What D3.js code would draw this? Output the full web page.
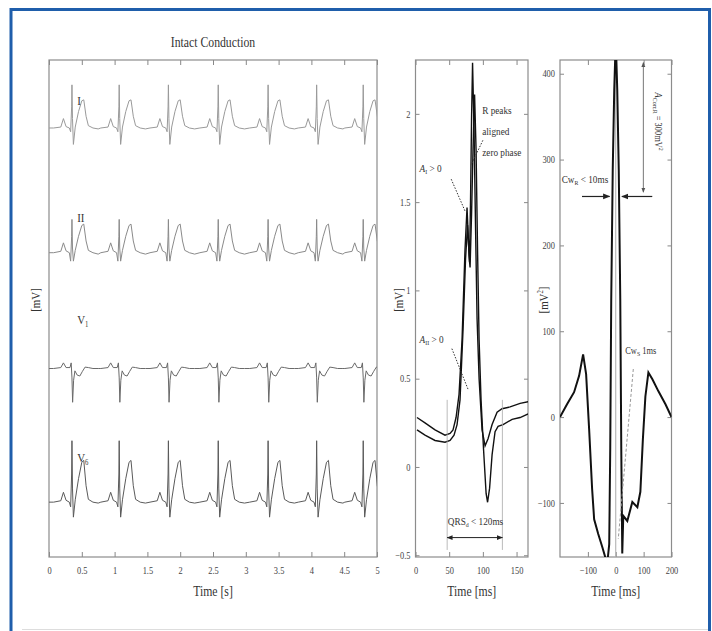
<!DOCTYPE html>
<html>
<head>
<meta charset="utf-8">
<script src="https://cdn.jsdelivr.net/npm/d3@7"></script>
<style>
  body { margin: 0; background: #fff; }
  text { font-family: "Liberation Serif", "Times New Roman", serif; fill: #333; }
  .tick text { fill: #444; font-size: 10px; }
  .tick line { stroke: #888; }
</style>
</head>
<body>
<svg id="fig" width="712" height="631"></svg>
<script>
// ---- data ----
// R-peak times in the 5 s strip (s)
const beatTimes = [0.35, 1.07, 1.82, 2.58, 3.34, 4.08, 4.79];
const leadNames = ["I", "II", "V", "V"];
const leadSubs = ["", "", "1", "6"];
const leadOffsets = [9.15, 6.49, 4.02, 1.17];          // mV, vertical spacing of the leads
const leadColors = ["#9a9a9a", "#8a8a8a", "#6a6a6a", "#5a5a5a"];
// one beat per lead: [time from R (s), mV]
const beatI = [[-0.28, 0], [-0.17, 0.02], [-0.13, 0.2], [-0.09, 0.03], [-0.04, 0], [-0.02, -0.08],
  [-0.005, 0.45], [0, 0.92], [0.008, 0.2], [0.022, -0.35], [0.05, 0.02], [0.1, 0.35], [0.15, 0.58],
  [0.18, 0.6], [0.215, 0.25], [0.25, 0.05], [0.32, 0], [0.4, -0.02]];
const beatII = [[-0.28, 0], [-0.17, 0.03], [-0.13, 0.21], [-0.09, 0.04], [-0.04, 0], [-0.02, -0.18],
  [-0.005, 0.35], [0, 0.71], [0.008, 0.1], [0.022, -0.18], [0.05, 0.05], [0.1, 0.35], [0.15, 0.58],
  [0.18, 0.61], [0.215, 0.25], [0.25, 0.05], [0.32, 0], [0.4, -0.03]];
const beatV1 = [[-0.28, 0], [-0.17, 0.02], [-0.13, 0.12], [-0.09, 0.02], [-0.03, 0.02], [-0.012, 0.12],
  [0, -0.2], [0.01, -0.72], [0.025, -0.25], [0.045, -0.05], [0.08, -0.14], [0.12, -0.16], [0.16, -0.06],
  [0.2, 0.03], [0.25, 0.02], [0.32, 0], [0.4, 0]];
const beatV6 = [[-0.28, 0], [-0.17, 0.03], [-0.13, 0.21], [-0.09, 0.04], [-0.04, 0], [-0.02, -0.1],
  [-0.005, 0.6], [0, 1.31], [0.008, 0.3], [0.022, -0.32], [0.05, 0.05], [0.1, 0.5], [0.15, 0.85],
  [0.18, 0.89], [0.215, 0.35], [0.25, 0.06], [0.32, 0], [0.4, -0.02]];
const beatTemplates = [beatI, beatII, beatV1, beatV6];

// averaged QRS complexes: [time (ms), mV]
const qrsA = [[2.2, 0.28], [14.1, 0.25], [29, 0.21], [43.8, 0.18], [51.3, 0.19], [55.7, 0.21], [60.2, 0.28],
  [64.6, 0.41], [69.1, 0.72], [73.5, 1.23], [76.5, 1.47], [78.8, 1.26], [80.2, 1.16], [81.7, 1.51],
  [83.2, 1.97], [84.7, 2.29], [86.9, 1.91], [89.2, 1.34], [91.4, 0.84], [94.4, 0.5], [98.8, 0.21],
  [103.3, 0.12], [107.7, 0.16], [113.7, 0.24], [121.1, 0.31], [128.5, 0.33], [140.4, 0.34],
  [155.3, 0.36], [167.2, 0.37]];
const qrsB = [[2.2, 0.21], [14.1, 0.18], [29, 0.15], [43.8, 0.14], [51.3, 0.15], [57.2, 0.18], [61.7, 0.24],
  [66.1, 0.38], [70.6, 0.78], [74.3, 1.18], [77.3, 1.37], [79.5, 1.2], [81, 1.13], [83.2, 1.43],
  [85.4, 1.8], [87.7, 2.11], [89.9, 1.8], [92.1, 1.23], [94.4, 0.72], [97.3, 0.38], [101, 0.1],
  [104.8, -0.15], [107, -0.2], [110, -0.12], [113.7, 0.07], [118.1, 0.2], [122.6, 0.23], [130, 0.24],
  [143.4, 0.27], [155.3, 0.28], [167.2, 0.3]];

// cross-correlation: [lag (ms), mV^2]
const corr = [[-200, 0], [-174.8, 15], [-149.5, 29], [-131.5, 48], [-117.1, 73], [-106.3, 50], [-95.5, -14],
  [-84.7, -84], [-77.5, -119], [-63.1, -136], [-48.6, -151], [-37.8, -163], [-30.6, -171], [-23.4, -148],
  [-19.8, -37], [-16.2, 137], [-10.8, 288], [-5.4, 381], [0, 440], [5.4, 381], [10.8, 288], [16.2, 137],
  [19.8, -37], [23.4, -159], [27, -115], [41.4, -121], [59.5, -99], [77.5, -105], [88.3, -87],
  [97.3, -26], [106.3, 24], [117.1, 52], [131.5, 44], [153.2, 30], [178.4, 15], [200, 0]];

const stripTicks = [0, 0.5, 1, 1.5, 2, 2.5, 3, 3.5, 4, 4.5, 5];
const qrsTicks = [0, 50, 100, 150];
const qrsValueTicks = [-0.5, 0, 0.5, 1, 1.5, 2];
const corrTicks = [-100, 0, 100, 200];
const corrValueTicks = [-100, 0, 100, 200, 300, 400];

// ---- layout ----
const svg = d3.select("#fig");
const plotTop = 60, plotBottom = 557;
const fmt = d3.format("~g");

svg.append("path")
  .attr("d", "M11,631V9.5H709.5V631")
  .attr("fill", "none").attr("stroke", "#1f5eab").attr("stroke-width", 3);
svg.append("line").attr("x1", 22).attr("x2", 708).attr("y1", 629.5).attr("y2", 629.5)
  .attr("stroke", "#ddd");

const defs = svg.append("defs");
defs.append("marker").attr("id", "arr").attr("viewBox", "0 0 10 10").attr("refX", 9).attr("refY", 5)
  .attr("markerWidth", 6).attr("markerHeight", 6).attr("orient", "auto-start-reverse")
  .append("path").attr("d", "M0,1L10,5L0,9z").attr("fill", "#222");
defs.append("marker").attr("id", "arrg").attr("viewBox", "0 0 10 10").attr("refX", 9).attr("refY", 5)
  .attr("markerWidth", 5).attr("markerHeight", 5).attr("orient", "auto-start-reverse")
  .append("path").attr("d", "M0,1L10,5L0,9z").attr("fill", "#555");

// condensed serif text helper
function label(x, y, size, rot) {
  const g = svg.append("g").attr("transform", `translate(${x},${y}) rotate(${rot || 0}) scale(0.84,1)`);
  return g.append("text").attr("font-size", size);
}

function panel(id, xs, ys, xt, yt, xlab) {
  const [x0, x1] = xs.range();
  defs.append("clipPath").attr("id", id).append("rect")
    .attr("x", x0).attr("y", plotTop).attr("width", x1 - x0).attr("height", plotBottom - plotTop);
  const bx = d3.axisBottom(xs).tickValues(xt).tickFormat(fmt).tickSizeInner(-5).tickSizeOuter(0).tickPadding(10);
  svg.append("g").attr("transform", `translate(0,${plotBottom})`).call(bx)
    .call(g => g.select(".domain").remove())
    .call(g => g.selectAll(".tick text").attr("transform", "scale(0.84,1)"));
  svg.append("g").attr("transform", `translate(0,${plotTop})`)
    .call(d3.axisTop(xs).tickValues(xt).tickFormat("").tickSizeInner(-5).tickSizeOuter(0))
    .call(g => g.select(".domain").remove());
  if (yt) {
    svg.append("g").attr("transform", `translate(${x0},0)`)
      .call(d3.axisLeft(ys).tickValues(yt).tickFormat(fmt).tickSizeInner(-4).tickSizeOuter(0).tickPadding(6))
      .call(g => g.select(".domain").remove())
      .call(g => g.selectAll(".tick text").attr("font-size", 9).attr("transform", "scale(0.84,1)"));
    svg.append("g").attr("transform", `translate(${x1},0)`)
      .call(d3.axisRight(ys).tickValues(yt).tickFormat("").tickSizeInner(-4).tickSizeOuter(0))
      .call(g => g.select(".domain").remove());
  }
  svg.append("rect").attr("x", x0).attr("y", plotTop).attr("width", x1 - x0).attr("height", plotBottom - plotTop)
    .attr("fill", "none").attr("stroke", "#8c8c8c").attr("stroke-width", 1.2);
  label((x0 + x1) / 2, 596, 14).attr("text-anchor", "middle").text(xlab);
  return svg.append("g").attr("clip-path", `url(#${id})`);
}

// ---- panel 1: 5 s strip ----
const x1s = d3.scaleLinear().domain([0, 5]).range([49, 377]);
const y1s = d3.scaleLinear().domain([0, 10.6]).range([plotBottom, plotTop]);
label(213, 47, 14).attr("text-anchor", "middle").text("Intact Conduction");
const g1 = panel("c1", x1s, y1s, stripTicks, null, "Time [s]");
label(40, 300, 13, -90).attr("text-anchor", "middle").text("[mV]");
const line1 = d3.line().x(d => x1s(d[0])).y(d => y1s(d[1]));
beatTemplates.forEach((tpl, i) => {
  const pts = [[0, leadOffsets[i]]];
  beatTimes.forEach(bt => tpl.forEach(([dt, v]) => pts.push([bt + dt, leadOffsets[i] + v])));
  g1.append("path").datum(pts.filter(p => p[0] >= 0))
    .attr("d", line1).attr("fill", "none").attr("stroke", leadColors[i]).attr("stroke-width", 1);
  const t = label(x1s(0.43), y1s(leadOffsets[i] + [0.5, 0.65, 0.95, 0.85][i]), 13);
  t.append("tspan").text(leadNames[i]);
  if (leadSubs[i]) t.append("tspan").attr("font-size", 8).attr("dy", 3).text(leadSubs[i]);
});

// ---- panel 2: QRS ----
const x2s = d3.scaleLinear().domain([0, 167]).range([415.5, 528]);
const y2s = d3.scaleLinear().domain([-0.51, 2.305]).range([plotBottom, plotTop]);
const g2 = panel("c2", x2s, y2s, qrsTicks, qrsValueTicks, "Time [ms]");
label(403, 300, 13, -90).attr("text-anchor", "middle").text("[mV]");
const line2 = d3.line().x(d => x2s(d[0])).y(d => y2s(d[1]));
[qrsA, qrsB].forEach(s => g2.append("path").datum(s).attr("d", line2)
  .attr("fill", "none").attr("stroke", "#111").attr("stroke-width", 1.4));

// QRS duration marker
[47, 129].forEach(t => svg.append("line").attr("x1", x2s(t)).attr("x2", x2s(t))
  .attr("y1", y2s(0.38)).attr("y2", y2s(-0.47)).attr("stroke", "#aaa").attr("stroke-width", 0.8));
svg.append("line").attr("x1", x2s(47)).attr("x2", x2s(129)).attr("y1", y2s(-0.4)).attr("y2", y2s(-0.4))
  .attr("stroke", "#222").attr("stroke-width", 1)
  .attr("marker-start", "url(#arr)").attr("marker-end", "url(#arr)");
{
  const t = label(x2s(48), y2s(-0.33), 11);
  t.append("tspan").text("QRS");
  t.append("tspan").attr("font-size", 7).attr("dy", 2).text("d");
  t.append("tspan").attr("dy", -2).text(" < 120ms");
}
// pointers
function pointer(xs, ys, a, b, dash) {
  svg.append("line").attr("x1", xs(a[0])).attr("y1", ys(a[1])).attr("x2", xs(b[0])).attr("y2", ys(b[1]))
    .attr("stroke", "#333").attr("stroke-width", 1).attr("stroke-dasharray", dash);
}
pointer(x2s, y2s, [100, 1.85], [82.5, 1.71], "1.5,1.5");
pointer(x2s, y2s, [53, 1.63], [73.5, 1.45], "1.5,1.5");
pointer(x2s, y2s, [54, 0.67], [78, 0.44], "1.5,1.5");
["R peaks", "aligned", "zero phase"].forEach((s, i) =>
  label(x2s(99), y2s(2.0) + i * 21, 11).text(s));
[[1.67, "I"], [0.7, "II"]].forEach(([v, s]) => {
  const t = label(x2s(6), y2s(v), 11);
  t.append("tspan").attr("font-style", "italic").text("A");
  t.append("tspan").attr("font-size", 7).attr("dy", 2).text(s);
  t.append("tspan").attr("dy", -2).text(" > 0");
});

// ---- panel 3: cross-correlation ----
const x3s = d3.scaleLinear().domain([-200, 200]).range([560, 671.5]);
const y3s = d3.scaleLinear().domain([-163, 416]).range([plotBottom, plotTop]);
const g3 = panel("c3", x3s, y3s, corrTicks, corrValueTicks, "Time [ms]");
{
  const t = label(548, 300, 13, -90).attr("text-anchor", "middle");
  t.append("tspan").text("[mV");
  t.append("tspan").attr("font-size", 8).attr("dy", -5).text("2");
  t.append("tspan").attr("dy", 5).text("]");
}
g3.append("line").attr("x1", x3s(0)).attr("x2", x3s(0)).attr("y1", plotTop).attr("y2", plotBottom)
  .attr("stroke", "#aaa").attr("stroke-width", 1);
const line3 = d3.line().x(d => x3s(d[0])).y(d => y3s(d[1]));
g3.append("path").datum(corr).attr("d", line3)
  .attr("fill", "none").attr("stroke", "#111").attr("stroke-width", 2);

// width marker at the main peak
svg.append("line").attr("x1", x3s(-121)).attr("x2", x3s(-22)).attr("y1", y3s(257)).attr("y2", y3s(257))
  .attr("stroke", "#222").attr("stroke-width", 1.2).attr("marker-end", "url(#arr)");
svg.append("line").attr("x1", x3s(131)).attr("x2", x3s(22)).attr("y1", y3s(257)).attr("y2", y3s(257))
  .attr("stroke", "#222").attr("stroke-width", 1.2).attr("marker-end", "url(#arr)");
{
  const t = label(x3s(-194), y3s(273), 11);
  t.append("tspan").text("Cw");
  t.append("tspan").attr("font-size", 7).attr("dy", 2).text("R");
  t.append("tspan").attr("dy", -2).text(" < 10ms");
}
// amplitude marker
svg.append("line").attr("x1", x3s(99)).attr("x2", x3s(99)).attr("y1", y3s(413)).attr("y2", y3s(262))
  .attr("stroke", "#777").attr("stroke-width", 1)
  .attr("marker-start", "url(#arrg)").attr("marker-end", "url(#arrg)");
{
  const t = label(x3s(140), y3s(378), 10, 90);
  t.append("tspan").attr("font-style", "italic").text("A");
  t.append("tspan").attr("font-size", 7).attr("dy", 2).text("Corr,R");
  t.append("tspan").attr("dy", -2).text(" = 300mV");
  t.append("tspan").attr("font-size", 7).attr("dy", -4).text("2");
}
{
  const t = label(x3s(34), y3s(74), 10);
  t.append("tspan").text("Cw");
  t.append("tspan").attr("font-size", 7).attr("dy", 2).text("S");
  t.append("tspan").attr("dy", -2).text(" 1ms");
}
svg.append("line").attr("x1", x3s(63)).attr("y1", y3s(56)).attr("x2", x3s(9)).attr("y2", y3s(-142))
  .attr("stroke", "#999").attr("stroke-width", 1).attr("stroke-dasharray", "3,2");
</script>
</body>
</html>
